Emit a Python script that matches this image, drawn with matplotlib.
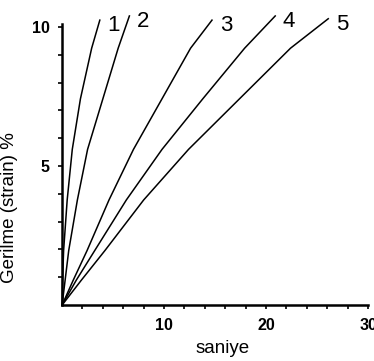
import matplotlib
matplotlib.use("Agg")
import matplotlib.pyplot as plt

# values: time (s) per curve, shared strain levels (%)
gerilme = [0, 0.9, 1.96, 3.78, 5.6, 7.42, 9.24]
egri_1 = [0, 0.05, 0.15, 0.5, 1.0, 1.8, 2.9]
egri_2 = [0, 0.3, 0.65, 1.5, 2.5, 4.0, 5.5]
egri_3 = [0, 1.1, 2.45, 4.6, 7.0, 9.8, 12.6]
egri_4 = [0, 1.4, 3.2, 6.3, 9.8, 13.8, 17.9]
egri_5 = [0, 1.9, 4.2, 8.0, 12.4, 17.4, 22.4]
# end points (curves finish a little above 10)
son_t = [3.7, 6.6, 14.7, 20.9, 26.1]
son_g = [10.25, 10.4, 10.25, 10.4, 10.3]
etiketler = ["1", "2", "3", "4", "5"]

x_ticks = list(range(2, 31, 2))
x_etiket = {10: "10", 20: "20", 30: "30"}
y_ticks = list(range(1, 11))
y_etiket = {5: "5", 10: "10"}

plt.rcParams['font.family'] = ['Liberation Sans', 'DejaVu Sans']

fig = plt.figure(figsize=(3.74, 3.61), dpi=100)
ax = fig.add_axes([0.166, 0.155, 0.818, 0.770])

egriler = [egri_1, egri_2, egri_3, egri_4, egri_5]
for i, t in enumerate(egriler):
    xs = t + [son_t[i]]
    ys = gerilme + [son_g[i]]
    ax.plot(xs, ys, color='black', lw=1.1, clip_on=False)
    ax.annotate(etiketler[i], (son_t[i], son_g[i]), xytext=(10, -4),
                textcoords='offset points', fontsize=16, va='center',
                ha='center', annotation_clip=False)

ax.set_xlim(0, 30)
ax.set_ylim(0, 10)
ax.spines['top'].set_visible(False)
ax.spines['right'].set_visible(False)
ax.spines['left'].set_linewidth(1.8)
ax.spines['bottom'].set_linewidth(1.8)
ax.spines['left'].set_bounds(0, 10.1)

ax.set_xticks(x_ticks)
ax.set_xticklabels([x_etiket.get(v, "") for v in x_ticks])
ax.set_yticks(y_ticks)
ax.set_yticklabels([y_etiket.get(v, "") for v in y_ticks])
ax.tick_params(direction='out', length=3, width=1.2, labelsize=11.5, pad=6)
for lab in ax.get_xticklabels() + ax.get_yticklabels():
    lab.set_fontweight('bold')

ax.set_xlabel('saniye', fontsize=13.5)
ax.set_ylabel('Gerilme (strain) %', fontsize=13.5)
ax.xaxis.set_label_coords(0.523, -0.125)
ax.yaxis.set_label_coords(-0.145, 0.35)

fig.savefig('out.png', dpi=100)
